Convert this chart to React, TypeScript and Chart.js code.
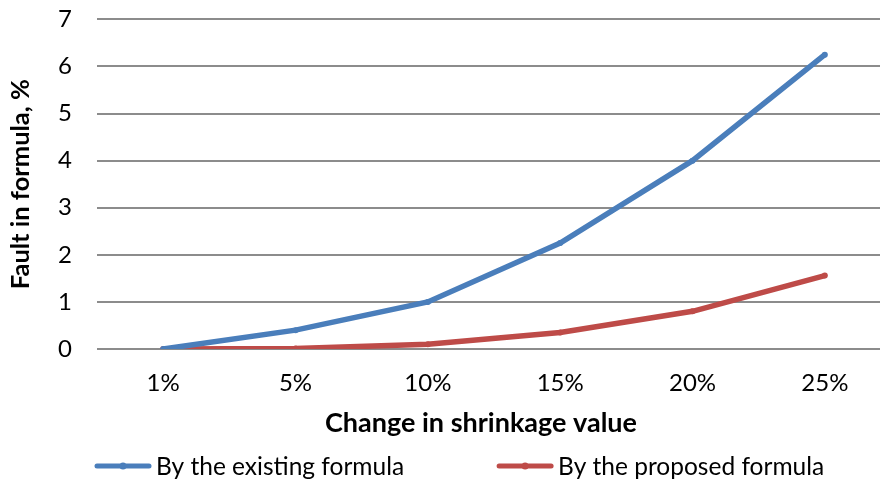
import React, { useEffect, useRef } from "react";
import { Chart, registerables } from "chart.js";

Chart.register(...registerables);

const categories = ["1%", "5%", "10%", "15%", "20%", "25%"];
const existingFormula = [0, 0.4, 1.0, 2.25, 4.0, 6.25];
const proposedFormula = [0, 0.01, 0.1, 0.35, 0.8, 1.56];
const yTicks = [0, 1, 2, 3, 4, 5, 6, 7];
const seriesNames = ["By the existing formula", "By the proposed formula"];
const seriesColors = ["#4A7EBB", "#BE4B48"];
const xTitle = "Change in shrinkage value";

const FONT = "Lato, 'Open Sans', 'Noto Sans', sans-serif";

const legendPlugin = {
  id: "customLegend",
  afterDraw(chart: any) {
    const ctx = chart.ctx as CanvasRenderingContext2D;
    ctx.save();
    // x-axis title
    ctx.font = `bold 27px ${FONT}`;
    ctx.textBaseline = "middle";
    ctx.textAlign = "center";
    ctx.fillStyle = "#000";
    ctx.fillText(xTitle, chart.chartArea.left + 384, chart.chartArea.bottom + 74);
    // legend
    const y = chart.height - 13;
    ctx.font = `24.5px ${FONT}`;
    ctx.textAlign = "left";
    let x = chart.chartArea.left - 2;
    chart.data.datasets.forEach((ds: any) => {
      const color = ds.borderColor as string;
      ctx.strokeStyle = color;
      ctx.lineWidth = 5;
      ctx.lineCap = "round";
      ctx.beginPath();
      ctx.moveTo(x + 2, y);
      ctx.lineTo(x + 54, y);
      ctx.stroke();
      ctx.fillStyle = color;
      ctx.beginPath();
      ctx.arc(x + 28, y, 3.5, 0, Math.PI * 2);
      ctx.fill();
      ctx.fillStyle = "#000";
      const tx = x + 61;
      ctx.fillText(ds.label, tx, y + 1);
      const w = ctx.measureText(ds.label).width;
      x = tx + w + 93;
    });
    ctx.restore();
  },
};

export default function App() {
  const ref = useRef<HTMLCanvasElement | null>(null);

  useEffect(() => {
    document.documentElement.style.overflow = "hidden";
    document.body.style.margin = "0";
    const ctx = ref.current!.getContext("2d")!;
    const chart = new Chart(ctx, {
      type: "line",
      data: {
        labels: categories,
        datasets: [
          {
            label: seriesNames[0],
            data: existingFormula,
            borderColor: seriesColors[0],
            backgroundColor: seriesColors[0],
            borderWidth: 5.5,
            pointRadius: 3,
            pointBorderWidth: 0,
            tension: 0,
          },
          {
            label: seriesNames[1],
            data: proposedFormula,
            borderColor: seriesColors[1],
            backgroundColor: seriesColors[1],
            borderWidth: 5.5,
            pointRadius: 3,
            pointBorderWidth: 0,
            tension: 0,
          },
        ],
      },
      options: {
        animation: false,
        responsive: false,
        maintainAspectRatio: false,
        layout: { padding: { top: 0, right: 2, left: 0, bottom: 34 } },
        plugins: {
          tooltip: { enabled: false },
          legend: { display: false },
        },
        scales: {
          x: {
            offset: true,
            grid: { display: false, drawTicks: false },
            border: { display: false },
            afterFit: (axis: any) => {
              axis.height = 96;
            },
            ticks: {
              color: "#000",
              font: { family: FONT, size: 24 },
              padding: 20,
              maxRotation: 0,
            },
          },
          y: {
            min: 0,
            max: 7,
            afterBuildTicks: (axis: any) => {
              axis.ticks = yTicks.map((v) => ({ value: v }));
            },
            afterFit: (axis: any) => {
              axis.width = 97;
            },
            grid: { color: "#8C8C8C", lineWidth: 2, drawTicks: false },
            border: { display: false },
            ticks: {
              color: "#000",
              font: { family: FONT, size: 24 },
              padding: 25,
            },
            title: {
              display: true,
              text: "Fault in formula, %",
              color: "#000",
              font: { family: FONT, size: 25.5, weight: "bold" },
              padding: { top: 5, bottom: 0 },
            },
          },
        },
      },
      plugins: [legendPlugin],
    });
    return () => chart.destroy();
  }, []);

  return (
    <div style={{ position: "fixed", left: 0, top: -20, width: 895, height: 499, background: "#fff" }}>
      <canvas ref={ref} width={895} height={499} style={{ width: 895, height: 499 }} />
    </div>
  );
}
